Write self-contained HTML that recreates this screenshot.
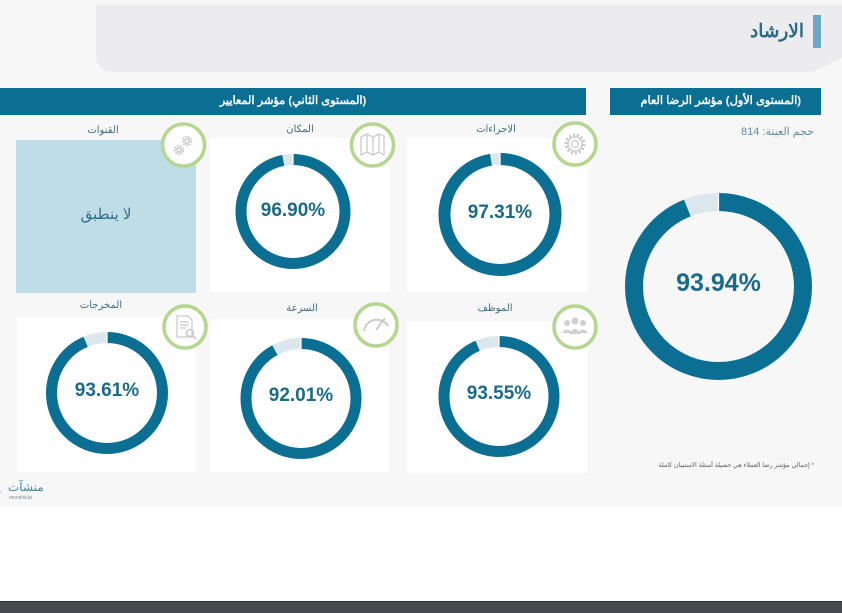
<!DOCTYPE html>
<html lang="ar">
<head>
<meta charset="utf-8">
<style>
  html,body{margin:0;padding:0;}
  body{width:842px;height:612px;position:relative;overflow:hidden;background:#ffffff;font-family:"Liberation Sans","Noto Sans CJK SC",sans-serif;}
  .abs{position:absolute;}
  .bg{left:0;top:0;width:842px;height:507px;background:#f7f7f7;}
  .hdr{left:96px;top:5px;width:746px;height:67px;background:#ececee;border-bottom-left-radius:16px;
       clip-path:polygon(0 0,100% 0,100% 53px,717px 67px,0 67px);}
  .vbar{left:813px;top:15px;width:8px;height:33px;background:#6aa8c4;}
  .title{right:38px;top:20px;font-size:18.5px;font-weight:bold;color:#2b6d84;direction:rtl;white-space:nowrap;}
  .bar{background:#0b6e93;color:#fff;font-size:11.3px;font-weight:bold;direction:rtl;white-space:nowrap;line-height:27px;}
  .card{background:#fff;}
  .lbl{font-size:10px;color:#3f6f82;direction:rtl;white-space:nowrap;text-align:center;width:120px;}
  .pct{font-weight:bold;color:#1a6a88;text-align:center;white-space:nowrap;}
  .note{font-size:6.3px;color:#666;direction:rtl;white-space:nowrap;}
  .foot{left:0;top:601px;width:842px;height:11px;background:#45484d;border-top:1px solid #2c2f33;}
</style>
</head>
<body>
<div class="abs bg"></div>
<div class="abs hdr"></div>
<div class="abs vbar"></div>
<div class="abs title">الارشاد</div>

<!-- right panel -->
<div class="abs bar" style="left:610px;top:88px;width:211px;height:27px;text-align:right;"><span style="padding-right:20px;">(المستوى الأول) مؤشر الرضا العام</span></div>
<div class="abs" style="right:28px;top:125px;font-size:11px;color:#5e8ea3;direction:rtl;white-space:nowrap;">حجم العينة: 814</div>

<!-- left panel bar -->
<div class="abs bar" style="left:0;top:88px;width:586px;height:27px;text-align:center;">(المستوى الثاني) مؤشر المعايير</div>

<!-- cards -->
<div class="abs" style="left:16px;top:140px;width:180px;height:153px;background:#bfdde7;"></div>
<div class="abs card" style="left:210px;top:138px;width:180px;height:154px;"></div>
<div class="abs card" style="left:407px;top:138px;width:181px;height:154px;"></div>
<div class="abs card" style="left:17px;top:317px;width:179px;height:155px;"></div>
<div class="abs card" style="left:210px;top:319px;width:179px;height:153px;"></div>
<div class="abs card" style="left:407px;top:321px;width:180px;height:152px;"></div>

<!-- labels -->
<div class="abs lbl" style="left:43px;top:125px;">القنوات</div>
<div class="abs lbl" style="left:240px;top:124px;">المكان</div>
<div class="abs lbl" style="left:436px;top:124px;">الاجراءات</div>
<div class="abs lbl" style="left:41px;top:300px;">المخرجات</div>
<div class="abs lbl" style="left:242px;top:303px;">السرعة</div>
<div class="abs lbl" style="left:435px;top:303px;">الموظف</div>

<div class="abs" style="left:16px;top:205px;width:180px;text-align:center;font-size:15px;color:#2f6e85;direction:rtl;">لا ينطبق</div>

<svg class="abs" style="left:0;top:0;" width="842" height="612" viewBox="0 0 842 612">
  <g fill="none">
    <circle cx="500" cy="214.5" r="55.5" stroke="#dbe6ed" stroke-width="12"/>
    <circle cx="500" cy="214.5" r="55.5" stroke="#0b6e93" stroke-width="12" stroke-dasharray="339.3 1000" transform="rotate(-90 500 214.5)"/>
    <circle cx="293" cy="211.5" r="52" stroke="#dbe6ed" stroke-width="11"/>
    <circle cx="293" cy="211.5" r="52" stroke="#0b6e93" stroke-width="11" stroke-dasharray="316.6 1000" transform="rotate(-90 293 211.5)"/>
    <circle cx="107" cy="393" r="55.5" stroke="#dbe6ed" stroke-width="11"/>
    <circle cx="107" cy="393" r="55.5" stroke="#0b6e93" stroke-width="11" stroke-dasharray="326.4 1000" transform="rotate(-90 107 393)"/>
    <circle cx="301" cy="398.5" r="55" stroke="#dbe6ed" stroke-width="11"/>
    <circle cx="301" cy="398.5" r="55" stroke="#0b6e93" stroke-width="11" stroke-dasharray="318.0 1000" transform="rotate(-90 301 398.5)"/>
    <circle cx="499" cy="396.5" r="55" stroke="#dbe6ed" stroke-width="11"/>
    <circle cx="499" cy="396.5" r="55" stroke="#0b6e93" stroke-width="11" stroke-dasharray="323.3 1000" transform="rotate(-90 499 396.5)"/>
    <circle cx="718.5" cy="286.5" r="84.5" stroke="#dbe6ed" stroke-width="18"/>
    <circle cx="718.5" cy="286.5" r="84.5" stroke="#0b6e93" stroke-width="18" stroke-dasharray="498.8 1000" transform="rotate(-90 718.5 286.5)"/>
  </g>
  <g stroke="#ffffff" stroke-width="1.2">
    <line x1="500" y1="153" x2="500" y2="166"/>
    <line x1="293" y1="154" x2="293" y2="166"/>
    <line x1="107" y1="332" x2="107" y2="344"/>
    <line x1="301" y1="338" x2="301" y2="350"/>
    <line x1="499" y1="336" x2="499" y2="348"/>
    <line x1="718.5" y1="193" x2="718.5" y2="211"/>
  </g>

  <g fill="#ffffff" stroke="#b5d68f" stroke-width="3.5">
    <circle cx="183.5" cy="145" r="21"/>
    <circle cx="372.5" cy="145" r="21"/>
    <circle cx="575" cy="144" r="21"/>
    <circle cx="185" cy="327" r="21"/>
    <circle cx="376" cy="325" r="21"/>
    <circle cx="575" cy="327" r="21"/>
  </g>
  <g fill="none" stroke="#cbcbcb" stroke-width="1.3">
    <circle cx="187" cy="141" r="4" stroke-width="2.5" stroke-dasharray="1.6 1.2"/>
    <circle cx="187" cy="141" r="2"/>
    <circle cx="179" cy="150" r="4" stroke-width="2.5" stroke-dasharray="1.6 1.2"/>
    <circle cx="179" cy="150" r="2"/>
    <path d="M361 137 L367 134 L373 137 L379 134 L384 136 L384 155 L379 152 L373 155 L367 152 L361 155 Z"/>
    <line x1="367" y1="134" x2="367" y2="152"/>
    <line x1="373" y1="137" x2="373" y2="155"/>
    <line x1="379" y1="134" x2="379" y2="152"/>
    <circle cx="575" cy="144" r="9" stroke-width="3" stroke-dasharray="2.2 1.8"/>
    <circle cx="575" cy="144" r="7"/>
    <circle cx="575" cy="144" r="3.5"/>
    <path d="M177 316 L188 316 L192 320 L192 337 L177 337 Z"/>
    <line x1="180" y1="322" x2="189" y2="322"/>
    <line x1="180" y1="325" x2="189" y2="325"/>
    <line x1="180" y1="328" x2="186" y2="328"/>
    <circle cx="190" cy="333" r="3.5" stroke-width="1.6"/>
    <line x1="192.5" y1="335.5" x2="196" y2="339" stroke-width="1.8"/>
    <path d="M364 331 A13 13 0 0 1 388 326" stroke-width="2"/>
    <line x1="376" y1="330" x2="385" y2="318" stroke-width="1.8"/>
  </g>
  <g fill="#d0d0d0">
    <circle cx="575" cy="321" r="3.5"/>
    <circle cx="567" cy="323" r="3"/>
    <circle cx="583" cy="323" r="3"/>
    <path d="M569 334 Q575 324 581 334 Z"/>
    <path d="M562 333 Q567 326 572 333 Z"/>
    <path d="M578 333 Q583 326 588 333 Z"/>
  </g>
</svg>

<div class="abs pct" style="left:440px;top:202px;width:120px;font-size:19px;">97.31%</div>
<div class="abs pct" style="left:233px;top:200px;width:120px;font-size:19px;">96.90%</div>
<div class="abs pct" style="left:47px;top:380px;width:120px;font-size:19px;">93.61%</div>
<div class="abs pct" style="left:241px;top:385px;width:120px;font-size:19px;">92.01%</div>
<div class="abs pct" style="left:439px;top:383px;width:120px;font-size:19px;">93.55%</div>
<div class="abs pct" style="left:648px;top:269px;width:141px;font-size:25px;">93.94%</div>

<div class="abs note" style="right:28px;top:462px;">* إجمالي مؤشر رضا العملاء هي حصيلة أسئلة الاستبيان كاملة</div>

<div class="abs" style="left:8px;top:481px;font-size:12px;color:#3a8aa6;direction:rtl;white-space:nowrap;line-height:12px;">منشآت</div>
<div class="abs" style="left:9px;top:495px;font-size:5px;color:#7a8a90;white-space:nowrap;">monsha'at</div>
<div class="abs" style="left:0px;top:490px;font-size:6px;color:#9fb5bd;">›</div>

<div class="abs foot"></div>
</body>
</html>
